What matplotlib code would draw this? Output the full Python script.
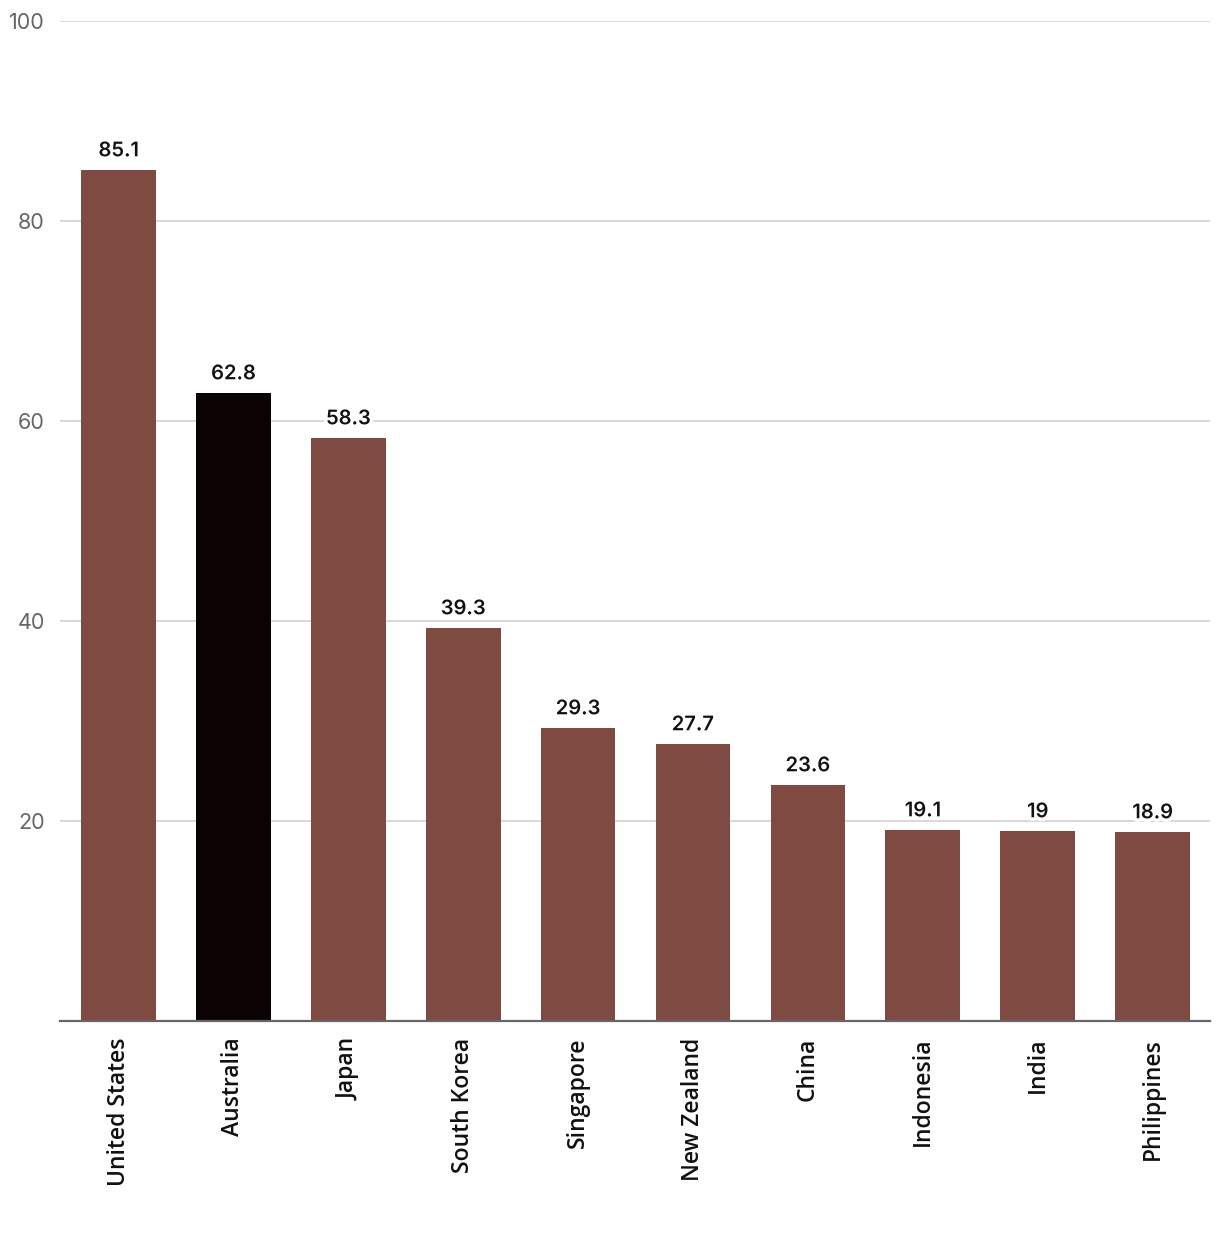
import matplotlib
matplotlib.use("Agg")
import matplotlib.pyplot as plt
import matplotlib.patheffects as pe

countries = ["United States", "Australia", "Japan", "South Korea", "Singapore",
             "New Zealand", "China", "Indonesia", "India", "Philippines"]
values = [85.1, 62.8, 58.3, 39.3, 29.3, 27.7, 23.6, 19.1, 19, 18.9]
labels = ["85.1", "62.8", "58.3", "39.3", "29.3", "27.7", "23.6", "19.1", "19", "18.9"]
highlight = "Australia"
yticks = [20, 40, 60, 80, 100]

brown = "#7f4a41"
black = "#0a0203"

fig = plt.figure(figsize=(12.2, 12.36), dpi=100)
W, H = 1220, 1236
ax = fig.add_axes([60 / W, 1 - 1021 / H, 1150 / W, 1000 / H])

colors = [black if c == highlight else brown for c in countries]
x = list(range(len(countries)))
bars = ax.bar(x, values, width=0.65, color=colors, zorder=3)

for xi, v, lab in zip(x, values, labels):
    t = ax.annotate(lab, (xi, v), xytext=(0, 7), textcoords="offset points",
                    ha="center", va="bottom", fontsize=14.5, fontweight="semibold",
                    family="Inter", color="#111111", zorder=4)
    t.set_path_effects([pe.withStroke(linewidth=5, foreground="white")])

ax.set_xlim(-0.51, 9.5)
ax.set_ylim(0, 100)
ax.set_yticks(yticks)
ax.set_yticklabels([str(t) for t in yticks], fontsize=15.5, color="#666666",
                   family="Inter", fontweight="normal")
ax.grid(axis="y", color="#d6d6d6", linewidth=1.3, zorder=0)
ax.tick_params(axis="y", length=0, pad=11)
ax.tick_params(axis="x", length=0, pad=12)
ax.set_xticks(x)
ax.set_xticklabels(countries, rotation=90, fontsize=16.5, family="Open Sans",
                   fontweight="semibold", color="#111111", va="top")

for s in ["top", "right", "left"]:
    ax.spines[s].set_visible(False)
ax.spines["bottom"].set_color("#666666")
ax.spines["bottom"].set_linewidth(1.6)
ax.spines["bottom"].set_zorder(5)

fig.savefig("out.png", dpi=100)
